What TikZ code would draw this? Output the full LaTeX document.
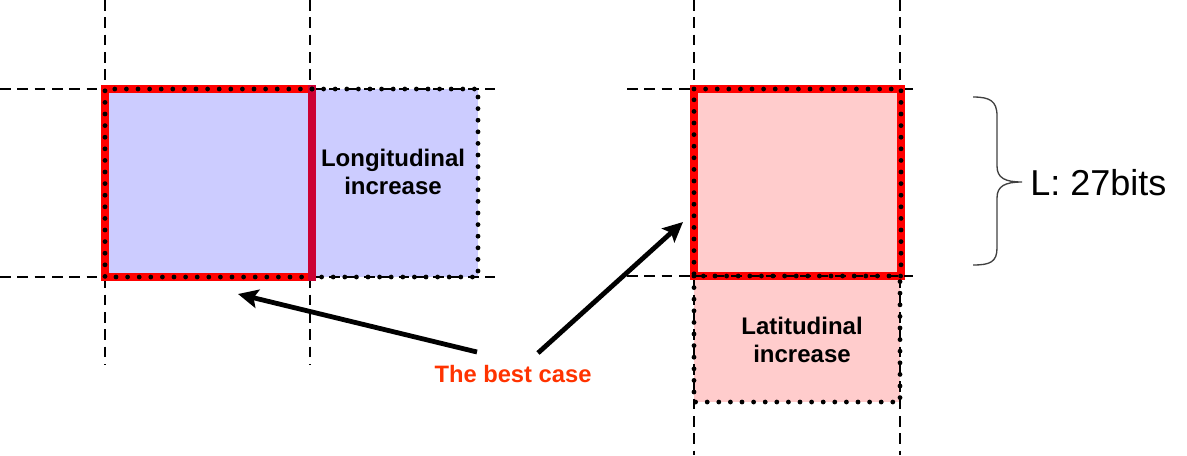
\documentclass[tikz,border=0pt]{standalone}
\usepackage{fontspec}
\setmainfont{Liberation Sans}
\usetikzlibrary{arrows.meta}
\definecolor{boxred}{HTML}{FF0000}
\definecolor{edgecrimson}{HTML}{CC0033}
\definecolor{lonfill}{HTML}{CCCCFF}
\definecolor{latfill}{HTML}{FFCCCC}
\definecolor{casered}{HTML}{FF3300}
\definecolor{bracegray}{HTML}{404040}
\tikzset{
  gridline/.style={black, line width=1.8pt, dash pattern=on 8pt off 5pt},
  redborder/.style={boxred, line width=6pt, line join=miter},
  dotrow/.style={black, line width=3.6pt, line cap=round, dash pattern=on 0pt off 8.7pt},
  pointer/.style={black, line width=3.6pt, -{Stealth[length=15pt,width=14pt,inset=3pt]}},
  arealabel/.style={font=\bfseries\fontsize{18}{21}\selectfont, align=center, inner sep=0pt},
  caselabel/.style={font=\bfseries\fontsize{17.8}{21}\selectfont, text=casered, inner sep=0pt},
  sizelabel/.style={font=\fontsize{27}{32}\selectfont, inner sep=0pt},
}
\begin{document}
\begin{tikzpicture}[x=0.75pt,y=-0.75pt]
  \useasboundingbox (0,0) rectangle (1187,455);

  % corner points of the cells
  \coordinate (a1) at (105,89);  \coordinate (a2) at (312,277);
  \coordinate (b2) at (478,277);
  \coordinate (c1) at (694,89);  \coordinate (c2) at (901,276);
  \coordinate (d2) at (900,402);

  % cell fills
  \fill[lonfill] (a1) rectangle (b2);
  \fill[latfill] (c1) rectangle (c2);
  \fill[latfill] (694,276) rectangle (d2);

  % dashed grid lines, left cell
  \draw[gridline] (105,0) -- (105,365);
  \draw[gridline] (310,0) -- (310,365);
  \draw[gridline] (0,89) -- (495,89);
  \draw[gridline] (0,277) -- (495,277);

  % dashed grid lines, right cell
  \draw[gridline] (694,0) -- (694,455);
  \draw[gridline] (900,0) -- (900,455);
  \draw[gridline] (627,89) -- (913,89);

  % thick borders of the base cells
  \draw[redborder] (a1) rectangle (a2);
  \draw[edgecrimson, line width=6pt] (312,85) -- (312,281);
  \draw[redborder] (c1) rectangle (c2);

  % dotted outlines
  \draw[dotrow] (312,89) -- (105,89) -- (105,277) -- (312,277);
  \draw[dotrow] (312,89) -- (478,89) -- (478,277) -- (312,277);
  \draw[dotrow] (694,89) -- (901,89) -- (901,276) -- (694,276) -- cycle;
  \draw[dotrow] (694,276) -- (694,402) -- (900,402) -- (900,276);

  % lower grid line over the right cell border
  \draw[gridline] (627,276) -- (913,276);

  % labels
  \node[arealabel] (lon) at (393,172) {Longitudinal\\increase};
  \node[arealabel] (lat) at (802,340) {Latitudinal\\increase};
  \node[caselabel, anchor=base] (best) at (513,382) {The best case};

  % pointers from the label
  \coordinate (tailL) at (477,352);
  \coordinate (tipL) at (238,294);
  \coordinate (tailR) at (538,353);
  \coordinate (tipR) at (683,222);
  \draw[pointer] (tailL) -- (tipL);
  \draw[pointer] (tailR) -- (tipR);

  % brace with the size label
  \draw[bracegray, line width=1pt]
    (973,97) .. controls (990,97) and (997,101) .. (997,116)
    -- (997,166) .. controls (997,178) and (1005,182) .. (1022,182)
    .. controls (1005,182) and (997,186) .. (997,198)
    -- (997,248) .. controls (997,262) and (990,265) .. (973,265);
  \node[sizelabel, anchor=base west] (bits) at (1030,195) {L: 27bits};
\end{tikzpicture}
\end{document}
